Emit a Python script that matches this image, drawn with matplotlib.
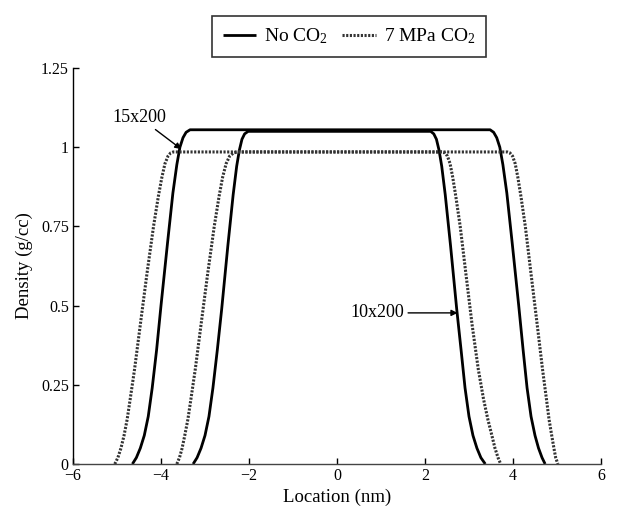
import matplotlib
matplotlib.use("Agg")
import matplotlib.pyplot as plt
from matplotlib.ticker import FixedLocator

plt.rcParams['font.family'] = ['Liberation Serif', 'DejaVu Serif']
plt.rcParams['mathtext.default'] = 'regular'

# ---- data ----
# No CO2, 15x200 (outer solid)
nc15_x = [-4.65, -4.56, -4.47, -4.38, -4.29, -4.20, -4.10, -4.00, -3.85, -3.73, -3.64, -3.57, -3.50, -3.43, -3.34,
          3.48, 3.56, 3.63, 3.70, 3.77, 3.86, 3.98, 4.13, 4.23, 4.32, 4.41, 4.50, 4.58, 4.66, 4.73]
nc15_y = [0.0, 0.02, 0.05, 0.09, 0.15, 0.24, 0.36, 0.50, 0.70, 0.855, 0.945, 1.0, 1.03, 1.047, 1.055,
          1.055, 1.047, 1.03, 1.0, 0.945, 0.855, 0.70, 0.50, 0.36, 0.24, 0.15, 0.09, 0.05, 0.02, 0.0]
# No CO2, 10x200 (inner solid)
nc10_x = [-3.27, -3.18, -3.09, -3.00, -2.91, -2.82, -2.72, -2.62, -2.48, -2.36, -2.28, -2.22, -2.16, -2.10, -2.02,
          2.13, 2.20, 2.26, 2.32, 2.38, 2.46, 2.58, 2.72, 2.82, 2.91, 3.00, 3.09, 3.18, 3.27, 3.37]
nc10_y = [0.0, 0.02, 0.05, 0.09, 0.15, 0.24, 0.36, 0.49, 0.69, 0.85, 0.94, 0.99, 1.025, 1.042, 1.05,
          1.05, 1.042, 1.025, 0.99, 0.94, 0.85, 0.69, 0.49, 0.36, 0.24, 0.15, 0.09, 0.05, 0.02, 0.0]
# 7 MPa CO2, 15x200 (outer dotted)
co15_x = [-5.05, -4.98, -4.91, -4.84, -4.77, -4.70, -4.60, -4.47, -4.32, -4.17, -4.06, -3.98, -3.91, -3.84, -3.78, -3.72,
          3.87, 3.93, 3.99, 4.05, 4.11, 4.18, 4.28, 4.41, 4.55, 4.67, 4.76, 4.82, 4.88, 4.93, 4.97, 5.02]
co15_y = [0.0, 0.02, 0.05, 0.09, 0.14, 0.205, 0.30, 0.44, 0.60, 0.75, 0.845, 0.905, 0.948, 0.972, 0.982, 0.985,
          0.985, 0.982, 0.972, 0.948, 0.905, 0.845, 0.75, 0.60, 0.44, 0.30, 0.205, 0.14, 0.09, 0.05, 0.02, 0.0]
# 7 MPa CO2, 10x200 (inner dotted)
co10_x = [-3.64, -3.58, -3.52, -3.46, -3.39, -3.32, -3.22, -3.09, -2.94, -2.79, -2.68, -2.60, -2.52, -2.44, -2.35, -2.25,
          2.38, 2.45, 2.51, 2.57, 2.63, 2.70, 2.80, 2.93, 3.07, 3.21, 3.33, 3.43, 3.52, 3.59, 3.66, 3.72]
co10_y = [0.0, 0.02, 0.05, 0.09, 0.14, 0.205, 0.30, 0.44, 0.60, 0.75, 0.845, 0.905, 0.948, 0.972, 0.982, 0.985,
          0.985, 0.982, 0.972, 0.948, 0.905, 0.845, 0.75, 0.60, 0.44, 0.30, 0.205, 0.14, 0.09, 0.05, 0.02, 0.0]

x_ticks = [-6, -4, -2, 0, 2, 4, 6]
x_labels = ['\u22126', '\u22124', '\u22122', '0', '2', '4', '6']
y_ticks = [0, 0.25, 0.5, 0.75, 1, 1.25]
y_labels = ['0', '0.25', '0.5', '0.75', '1', '1.25']

fig = plt.figure(figsize=(6.26, 5.13), dpi=100)
ax = fig.add_axes([73/626, 1-464/513, (601-73)/626, (464-68)/513])

dot_style = (0, (0.7, 0.5))
solid_kw = dict(color='black', lw=2.0, solid_capstyle='butt', solid_joinstyle='round')
dot_kw = dict(color='#333333', lw=2.2, linestyle=dot_style)

l1, = ax.plot(nc15_x, nc15_y, **solid_kw)
ax.plot(nc10_x, nc10_y, **solid_kw)
l2, = ax.plot(co15_x, co15_y, **dot_kw)
ax.plot(co10_x, co10_y, **dot_kw)

ax.set_xlim(-6, 6)
ax.set_ylim(0, 1.25)
ax.xaxis.set_major_locator(FixedLocator(x_ticks))
ax.set_xticklabels(x_labels)
ax.yaxis.set_major_locator(FixedLocator(y_ticks))
ax.set_yticklabels(y_labels)

for s in ['top', 'right']:
    ax.spines[s].set_visible(False)
ax.spines['left'].set_linewidth(1.0)
ax.spines['bottom'].set_linewidth(1.0)
ax.spines['bottom'].set_color('#444444')
ax.tick_params(direction='in', length=4, width=1, labelsize=11.5, pad=3)

ax.set_xlabel('Location (nm)', fontsize=13.5, labelpad=3)
ax.set_ylabel('Density (g/cc)', fontsize=13.5, labelpad=6)

arrow_kw = dict(arrowstyle='-|>', color='black', lw=1.0, shrinkA=1, shrinkB=0, mutation_scale=9)
ax.annotate('15x200', xy=(-3.54, 0.994), xytext=(-4.49, 1.094), ha='center', va='center',
            fontsize=13, arrowprops=arrow_kw)
ax.annotate('10x200', xy=(2.74, 0.477), xytext=(0.91, 0.477), ha='center', va='center',
            fontsize=13, arrowprops=arrow_kw)

leg = fig.legend([l1, l2], ['No CO$_2$', '7 MPa CO$_2$'], loc='upper center',
                 bbox_to_anchor=(349/626, 1-16/513), ncol=2, frameon=True, fancybox=False,
                 edgecolor='black', fontsize=14, handlelength=1.7, columnspacing=0.75,
                 handletextpad=0.42, borderpad=0.55, borderaxespad=0)
leg.get_frame().set_linewidth(1.2)

fig.savefig('out.png', dpi=100)
